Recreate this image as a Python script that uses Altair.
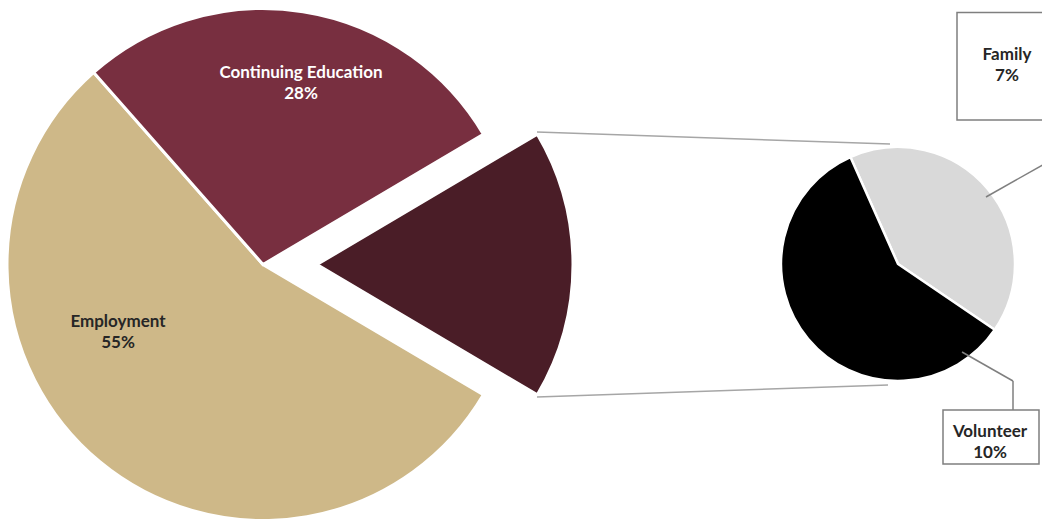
import math
import altair as alt
import pandas as pd

# ---- data ----
main_categories = ["Other", "Employment", "Continuing Education"]
main_values = [17, 55, 28]
main_colors = ["#4A1D27", "#CEB888", "#782F40"]

sub_categories = ["Family", "Volunteer"]
sub_values = [7, 10]
sub_colors = ["#D9D9D9", "#000000"]

main_df = pd.DataFrame({
    "cat": main_categories,
    "value": main_values,
    "idx": list(range(len(main_categories))),
    "label": [f"{c}\n{v}%" for c, v in zip(main_categories, main_values)],
})
sub_df = pd.DataFrame({
    "cat": sub_categories,
    "value": sub_values,
    "idx": list(range(len(sub_categories))),
    "label": [f"{c}\n{v}%" for c, v in zip(sub_categories, sub_values)],
})

# start angles: "Other" slice centred at 3 o'clock
MAIN_START = math.pi / 2 - math.pi * main_values[0] / sum(main_values)
SUB_START = math.radians(336)

FONT = "Lato"
W, H = 1034, 511
CY = 256.5


def main_pie(cx, show_other):
    return alt.Chart(main_df).mark_arc(radius=256, stroke="white", strokeWidth=3).encode(
        theta=alt.Theta("value:Q", stack=True,
                        scale=alt.Scale(range=[MAIN_START, MAIN_START + 2 * math.pi])),
        order=alt.Order("idx:Q"),
        color=alt.Color("cat:N", scale=alt.Scale(domain=main_categories, range=main_colors), legend=None),
        opacity=alt.condition(alt.datum.cat == "Other",
                              alt.value(1 if show_other else 0),
                              alt.value(0 if show_other else 1)),
        x=alt.value(cx), y=alt.value(CY),
    )


pie_main = main_pie(255, False)
pie_other = main_pie(309, True)

pie_sub = alt.Chart(sub_df).mark_arc(radius=117, stroke="white", strokeWidth=2.5).encode(
    theta=alt.Theta("value:Q", stack=True,
                    scale=alt.Scale(range=[SUB_START, SUB_START + 2 * math.pi])),
    order=alt.Order("idx:Q"),
    color=alt.Color("cat:N", scale=alt.Scale(domain=sub_categories, range=sub_colors), legend=None),
    x=alt.value(890), y=alt.value(256),
)

one = pd.DataFrame({"k": [0]})


def seg(x1, y1, x2, y2, color, width=1.5):
    return alt.Chart(one).mark_rule(color=color, strokeWidth=width).encode(
        x=alt.value(x1), y=alt.value(y1), x2=alt.value(x2), y2=alt.value(y2))


def box(x1, y1, x2, y2):
    return alt.Chart(one).mark_rect(fill="white", stroke="#7F7F7F", strokeWidth=1.5).encode(
        x=alt.value(x1), y=alt.value(y1), x2=alt.value(x2), y2=alt.value(y2))


connectors = [
    seg(529, 124, 882, 136, "#A6A6A6"),
    seg(529, 389, 880, 377, "#A6A6A6"),
]
leaders = [
    seg(1038, 112, 1038, 155, "#7F7F7F"),
    seg(1038, 155, 978, 189, "#7F7F7F"),
    seg(954, 344, 1005, 373, "#7F7F7F"),
    seg(1005, 373, 1005, 402, "#7F7F7F"),
]
boxes = [box(949, 4.5, 1041, 112), box(935, 402, 1031, 456)]


def label(df, cat, x, y, color):
    return alt.Chart(df).transform_filter(alt.datum.cat == cat).mark_text(
        font=FONT, fontSize=17, fontWeight="bold", color=color, align="center",
        baseline="alphabetic", lineBreak="\n", lineHeight=21,
    ).encode(text="label:N", x=alt.value(x), y=alt.value(y))


labels = [
    label(main_df, "Continuing Education", 293, 70.3, "white"),
    label(main_df, "Employment", 110, 318.7, "#262626"),
    label(sub_df, "Family", 999, 52, "#262626"),
    label(sub_df, "Volunteer", 982, 429, "#262626"),
]

chart = alt.layer(
    pie_main, pie_other, pie_sub, *connectors, *boxes, *leaders, *labels
).resolve_scale(
    theta="independent", color="independent", opacity="independent"
).properties(
    width=W, height=H, autosize=alt.AutoSizeParams(type="none"), padding=0
).configure_view(stroke=None)

chart.save("out.html", embed_options={"renderer": "svg", "actions": False})
